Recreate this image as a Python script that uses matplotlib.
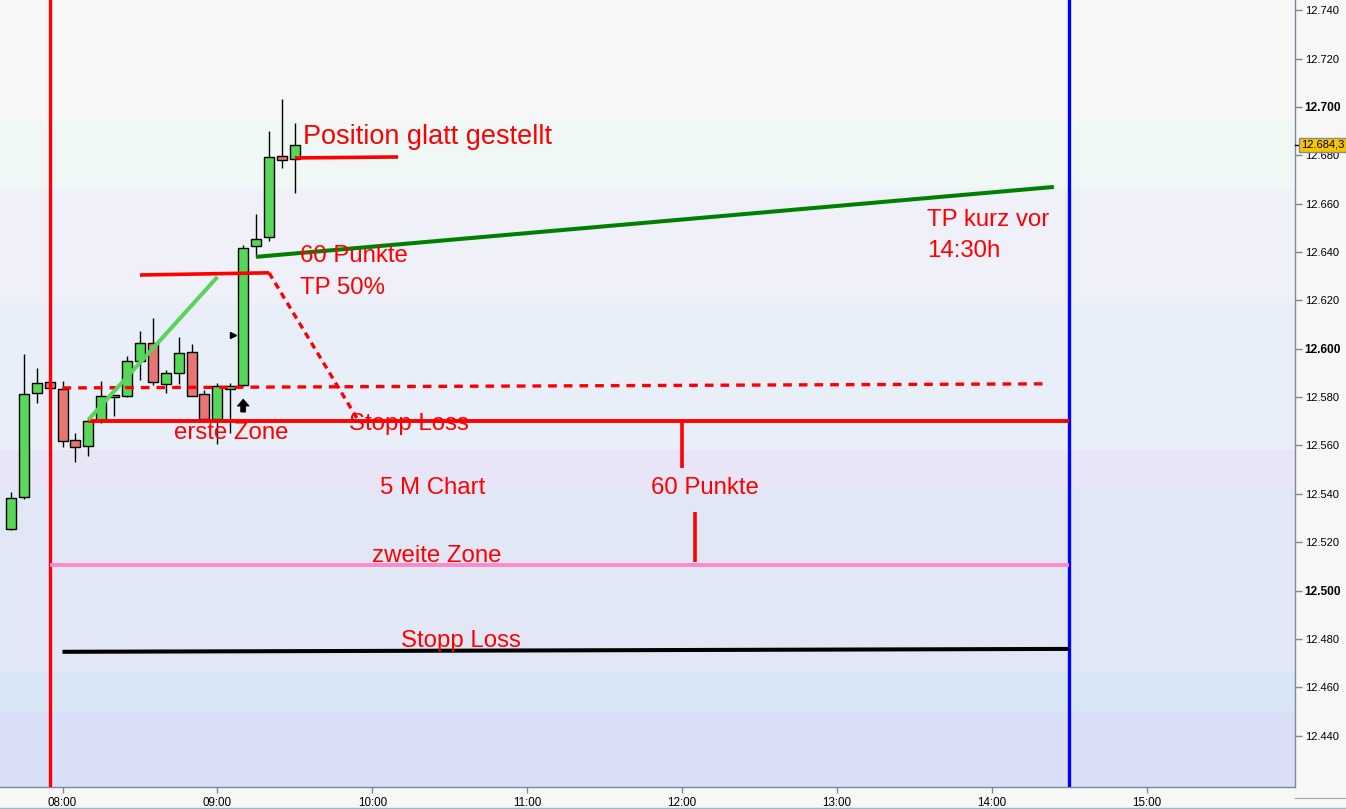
import matplotlib
matplotlib.use("Agg")
import matplotlib.pyplot as plt
import matplotlib.transforms as mtransforms
from matplotlib.lines import Line2D
from matplotlib.patches import Polygon

plt.rcParams['font.family'] = ['Liberation Sans', 'DejaVu Sans']

# ---------------- data ----------------
times = ["07:40", "07:45", "07:50", "07:55", "08:00", "08:05", "08:10", "08:15",
         "08:20", "08:25", "08:30", "08:35", "08:40", "08:45", "08:50", "08:55",
         "09:00", "09:05", "09:10", "09:15", "09:20", "09:25", "09:30"]
opens = [12525.4, 12538.6, 12581.6, 12586.4, 12583.5, 12562.2, 12559.7, 12570.6,
         12580.0, 12580.5, 12595.0, 12602.3, 12585.3, 12589.9, 12598.6, 12581.2,
         12571.1, 12583.5, 12584.9, 12642.5, 12646.1, 12679.6, 12678.4]
highs = [12540.7, 12597.9, 12592.0, 12587.5, 12586.8, 12565.1, 12571.0, 12586.7,
         12580.8, 12597.0, 12607.4, 12612.8, 12591.3, 12604.8, 12602.0, 12583.0,
         12585.7, 12586.0, 12643.0, 12655.8, 12690.1, 12703.3, 12693.3]
lows = [12525.1, 12538.0, 12577.5, 12583.0, 12559.3, 12553.1, 12555.8, 12569.2,
        12572.0, 12580.0, 12587.1, 12585.0, 12581.9, 12585.3, 12580.3, 12570.5,
        12560.7, 12565.3, 12584.5, 12638.1, 12644.7, 12674.9, 12664.3]
closes = [12538.2, 12581.2, 12585.8, 12583.7, 12561.8, 12559.3, 12570.0, 12580.4,
          12580.2, 12595.1, 12602.3, 12586.2, 12589.9, 12598.2, 12580.5, 12571.1,
          12584.6, 12584.4, 12641.6, 12645.3, 12679.2, 12678.2, 12684.3]
last_price = 12684.3

x_ticks = ["08:00", "09:00", "10:00", "11:00", "12:00", "13:00", "14:00", "15:00"]
y_ticks = [12440, 12460, 12480, 12500, 12520, 12540, 12560, 12580, 12600,
           12620, 12640, 12660, 12680, 12700, 12720, 12740]
bold_ticks = [12500, 12600, 12700]

# background bands (price edges) and colours
band_edges = [12400, 12450.3, 12466.4, 12542.1, 12558.2, 12619.0, 12666.5, 12693.8, 12760]
band_colors = ["#d9dff6", "#d9e6f6", "#e2e7f6", "#e8e6f6", "#e8eff8", "#eff0f8",
               "#f0f8f6", "#f7f7f7"]

# drawn annotations (time, price)
start_line_time = "07:55"
end_line_time = "14:30"
dashed_entry = (["08:00", "14:22"], [12583.8, 12585.5])
stop_loss_1 = (["08:10", "14:30"], [12570.2, 12570.2])
zone_2 = (["07:55", "14:30"], [12510.6, 12510.6])
stop_loss_2 = (["08:00", "14:30"], [12474.7, 12475.9])
dist_seg_1 = (["12:00", "12:00"], [12570.2, 12550.7])
dist_seg_2 = (["12:05", "12:05"], [12532.5, 12511.9])
trend_up = (["08:10", "09:00"], [12570.6, 12629.7])
tp50_line = (["08:30", "09:20"], [12630.5, 12631.4])
tp50_drop = (["09:20", "09:54"], [12631.4, 12571.4])
tp_target = (["09:15", "14:24"], [12638.0, 12666.9])
exit_line = (["09:30", "10:10"], [12678.9, 12679.3])
up_arrow = ("09:10", 12579.2)      # time, tip price
side_marker = ("09:06", 12605.7)

labels = [
    ("Position glatt gestellt", "09:33", 12687.4, 19.5),
    ("60 Punkte", "09:32", 12638.4, 17.3),
    ("TP 50%", "09:32", 12625.0, 17.3),
    ("TP kurz vor", "13:35", 12653.3, 17.3),
    ("14:30h", "13:35", 12640.5, 17.3),
    ("Stopp Loss", "09:51", 12568.9, 17.3),
    ("erste Zone", "08:43", 12565.2, 17.3),
    ("5 M Chart", "10:03", 12542.5, 17.3),
    ("60 Punkte", "11:48", 12542.5, 17.3),
    ("zweite Zone", "10:00", 12514.3, 17.3),
    ("Stopp Loss", "10:11", 12479.2, 17.3),
]


def t(s):
    h, m = s.split(":")
    return int(h) + int(m) / 60.0


# ---------------- figure ----------------
W, H = 1346, 809
fig = plt.figure(figsize=(W / 100, H / 100), dpi=100, facecolor="#f7f7f7")
ax = fig.add_axes([0, 22 / H, 1295 / W, 787 / H])
ax.set_facecolor("#f7f7f7")

xmin, xmax = 7.5965, 15.957
ymin, ymax = 12418.8, 12744.2
ax.set_xlim(xmin, xmax)
ax.set_ylim(ymin, ymax)

for i in range(len(band_colors)):
    ax.axhspan(band_edges[i], band_edges[i + 1], color=band_colors[i], lw=0, zorder=0)

px = (xmax - xmin) / 1295.0   # hours per pixel
py = (ymax - ymin) / 787.0    # points per pixel
bw = 10 * px
xs = [t(s) for s in times]

# wicks
ax.vlines(xs, lows, highs, color="black", lw=1.0, zorder=2)
# bodies
for x, o, c in zip(xs, opens, closes):
    up = c >= o
    col = "#58d858" if up else "#e87474"
    lo, hi = min(o, c), max(o, c)
    if hi - lo < 0.8:
        hi = lo + 0.8
    ax.add_patch(plt.Rectangle((x - bw / 2, lo), bw, hi - lo, facecolor=col,
                               edgecolor="black", lw=1.0, zorder=3))

# vertical session lines
ax.axvline(t(start_line_time), color="#ff0000", lw=2.4, zorder=4)
ax.axvline(t(end_line_time), color="#0000ff", lw=2.4, zorder=4)


def seg(d, **kw):
    ax.plot([t(d[0][0]), t(d[0][1])], d[1], solid_capstyle="butt", **kw)


seg(dashed_entry, color="#ff0000", lw=2.4, ls=(0, (2.6, 2.1)), zorder=5)
seg(stop_loss_1, color="#ff0000", lw=2.8, zorder=5)
seg(zone_2, color="#ff88c8", lw=2.8, zorder=5)
seg(stop_loss_2, color="#000000", lw=2.9, zorder=5)
seg(dist_seg_1, color="#ff0000", lw=2.6, zorder=5)
seg(dist_seg_2, color="#ff0000", lw=2.6, zorder=5)
seg(trend_up, color="#5ad35a", lw=2.9, zorder=5)
seg(tp50_line, color="#ff0000", lw=2.6, zorder=5)
seg(tp50_drop, color="#ff0000", lw=2.4, ls=(0, (2.0, 1.5)), zorder=5)
seg(tp_target, color="#008000", lw=2.9, zorder=5)
seg(exit_line, color="#ff0000", lw=2.6, zorder=5)

# small up arrow (head + shaft)
ax0, ay0 = t(up_arrow[0]), up_arrow[1]
arrow_pts = [(ax0, ay0), (ax0 + 6 * px, ay0 - 7 * py), (ax0 + 2.5 * px, ay0 - 7 * py),
             (ax0 + 2.5 * px, ay0 - 13 * py), (ax0 - 2.5 * px, ay0 - 13 * py),
             (ax0 - 2.5 * px, ay0 - 7 * py), (ax0 - 6 * px, ay0 - 7 * py)]
ax.add_patch(Polygon(arrow_pts, closed=True, facecolor="black", edgecolor="black",
                     lw=0.5, zorder=6))
ax.plot([t(side_marker[0])], [side_marker[1]], marker=">", color="black", ms=5, zorder=6)

for txt, tm, y, fs in labels:
    ax.text(t(tm), y, txt, color="#ff0000", fontsize=fs, ha="left", va="center",
            zorder=7)

# ---------------- axes styling ----------------
spine_col = "#7b8b99"
for s in ["left", "top"]:
    ax.spines[s].set_visible(False)
for s in ["right", "bottom"]:
    ax.spines[s].set_color(spine_col)
    ax.spines[s].set_linewidth(1.0)

ax.yaxis.tick_right()
ax.set_yticks(y_ticks)
ax.set_yticklabels([f"{v // 1000}.{v % 1000:03d}" for v in y_ticks])
ax.tick_params(axis="y", direction="out", length=5, width=1, color=spine_col,
               labelsize=8.0, pad=2, labelcolor="black")
for lab, v in zip(ax.get_yticklabels(), y_ticks):
    if v in bold_ticks:
        lab.set_fontweight("bold")
        lab.set_fontsize(8.6)

ax.set_xticks([t(s) for s in x_ticks])
ax.set_xticklabels(x_ticks)
ax.tick_params(axis="x", direction="out", length=4, width=1, color=spine_col,
               labelsize=8.4, pad=3, labelcolor="black")

# last price tag
trans = mtransforms.blended_transform_factory(ax.transAxes, ax.transData)
ax.plot([1.0, 1.004], [last_price, last_price], color="black", lw=1,
        transform=trans, clip_on=False, zorder=8)
ax.text(1.0045, last_price, "12.684,3", transform=trans, fontsize=8.0,
        ha="left", va="center", color="black", zorder=9, clip_on=False,
        bbox=dict(boxstyle="square,pad=0.2", facecolor="#f7c600",
                  edgecolor="#8a8a8a", lw=1))

# separator lines outside the plot
fig.add_artist(Line2D([1295 / W, 1.0], [1 - 798 / H, 1 - 798 / H],
                      transform=fig.transFigure, color="#9aa7b3", lw=0.8))
fig.add_artist(Line2D([0, 1.0], [1 - 808 / H, 1 - 808 / H],
                      transform=fig.transFigure, color="#9fb8c8", lw=1.0))

fig.savefig("out.png", dpi=100, facecolor=fig.get_facecolor())
